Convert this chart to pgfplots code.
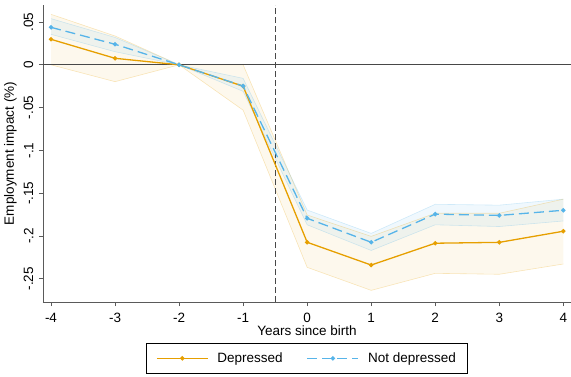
\documentclass[border=0pt]{standalone}
\usepackage{fontspec}
\setmainfont{Liberation Sans}
\usepackage{pgfplots}
\usepackage{pgfplotstable}
\pgfplotsset{compat=1.18}
\usepgfplotslibrary{fillbetween}
\definecolor{dep}{HTML}{E69F00}
\definecolor{ndep}{HTML}{56B4E9}
\definecolor{axgray}{HTML}{5A5A5A}

\pgfplotstableread{
x    b       lo       hi
-4   0.0298  0.0     0.059
-3   0.0076  -0.0197 0.0337
-2   0.0     0.0     0.0
-1   -0.025  -0.053  0.0
0    -0.2074 -0.2367 -0.1755
1    -0.234  -0.2636 -0.2005
2    -0.2085 -0.2437 -0.1735
3    -0.2075 -0.2448 -0.1735
4    -0.1945 -0.2328 -0.157
}\deptab

\pgfplotstableread{
x    b       lo       hi
-4   0.0438  0.0356  0.054
-3   0.024   0.0153  0.032
-2   0.0     0.0     0.0
-1   -0.0248 -0.031  -0.0158
0    -0.1794 -0.187  -0.1697
1    -0.2074 -0.217  -0.197
2    -0.1745 -0.187  -0.163
3    -0.176  -0.189  -0.164
4    -0.170  -0.1825 -0.157
}\ndeptab

\newcommand{\chartfont}{\fontsize{13.5}{16}\selectfont}

\begin{document}
\begin{tikzpicture}
\begin{axis}[
  at={(0pt,0pt)}, anchor=south west,
  scale only axis, width=528pt, height=297pt,
  xmin=-4.125, xmax=4.12, ymin=-0.2772, ymax=0.0699,
  axis x line*=bottom, axis y line*=left,
  axis line style={axgray, line width=0.8pt, -},
  tick align=outside, major tick length=4pt,
  tick style={axgray, line width=0.8pt},
  xtick={-4,-3,-2,-1,0,1,2,3,4},
  ytick={-0.25,-0.2,-0.15,-0.1,-0.05,0,0.05},
  yticklabels={-.25,-.2,-.15,-.1,-.05,0,.05},
  /pgf/number format/assume math mode=true,
  ticklabel style={font=\chartfont},
  yticklabel style={rotate=90, anchor=south, inner sep=5.5pt},
  xticklabel style={inner sep=2pt, yshift=-5pt},
  xlabel={Years since birth}, ylabel={Employment impact (\%)},
  label style={font=\chartfont},
  xlabel style={yshift=3pt},
  ylabel style={yshift=-2pt},
  clip=false,
  legend columns=2,
  legend style={at={(axis description cs:0.5,-0.138)}, anchor=north,
    draw=black, font=\chartfont,
    inner xsep=9.5pt, inner ysep=7.5pt,
    /tikz/every odd column/.append style={column sep=7pt},
    /tikz/every even column/.append style={column sep=22pt}},
  legend image code/.code={\draw[mark repeat=2,mark phase=2,#1,line width=1.3pt] plot coordinates {(0pt,0pt) (25.5pt,0pt) (51pt,0pt)};},
]
% bands
\addplot[name path=dhi, draw=dep, draw opacity=0.25, line width=0.6pt, forget plot] table[x=x,y=hi] {\deptab};
\addplot[name path=dlo, draw=dep, draw opacity=0.25, line width=0.6pt, forget plot] table[x=x,y=lo] {\deptab};
\addplot[fill=dep, fill opacity=0.07, draw=none, forget plot] fill between[of=dhi and dlo];
\addplot[name path=nhi, draw=ndep, draw opacity=0.25, line width=0.6pt, forget plot] table[x=x,y=hi] {\ndeptab};
\addplot[name path=nlo, draw=ndep, draw opacity=0.25, line width=0.6pt, forget plot] table[x=x,y=lo] {\ndeptab};
\addplot[fill=ndep, fill opacity=0.09, draw=none, forget plot] fill between[of=nhi and nlo];
% reference lines
\addplot[axgray!80!black, line width=0.8pt, forget plot] coordinates {(-4.125,0) (4.12,0)};
\addplot[axgray!80!black, line width=0.8pt, dash pattern=on 6pt off 3pt, forget plot] coordinates {(-0.5,-0.2772) (-0.5,0.0699)};
% series
\addplot[dep, line width=1.3pt, mark=*, mark size=1.5pt, mark options={solid}] table[x=x,y=b] {\deptab};
\addlegendentry{Depressed}
\addplot[ndep, line width=1.3pt, dash pattern=on 10pt off 5pt, mark=*, mark size=1.5pt, mark options={solid}] table[x=x,y=b] {\ndeptab};
\addlegendentry{Not depressed}
\end{axis}
\pgfresetboundingbox
\path[use as bounding box] (-43pt,-74pt) rectangle (528pt,302pt);
\end{tikzpicture}
\end{document}
